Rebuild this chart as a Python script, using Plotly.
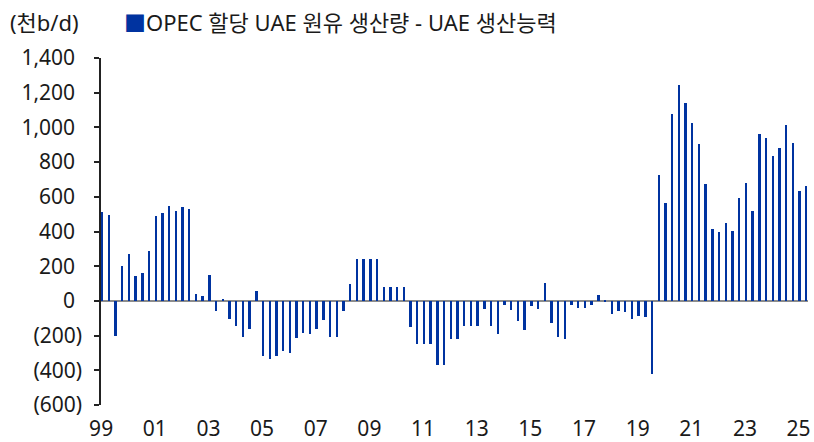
import plotly.graph_objects as go

# Quarterly data: 1999Q1 .. 2025Q2 (thousand b/d)
start_year = 1999
values = [
    510, 498, -204, 200, 271, 144, 160, 285,          # 1999-2000
    487, 508, 548, 521, 540, 527, 37, 27,             # 2001-2002
    152, -60, 12, -104, -144, -210, -160, 58,         # 2003-2004
    -315, -335, -315, -290, -302, -212, -183, -190,   # 2005-2006
    -161, -112, -206, -206, -56, 100, 240, 240,       # 2007-2008
    240, 240, 79, 79, 79, 79, -148, -246,             # 2009-2010
    -246, -246, -367, -367, -219, -219, -146, -146,   # 2011-2012
    -146, -46, -144, -192, -23, -54, -117, -167,      # 2013-2014
    -27, -48, 102, -127, -208, -217, -21, -42,        # 2015-2016
    -42, -23, 33, -5, -77, -58, -63, -102,            # 2017-2018
    -88, -90, -421, 727, 565, 1077, 1246, 1142,       # 2019-2020
    1027, 904, 673, 413, 398, 450, 402, 592,          # 2021-2022
    679, 521, 962, 940, 833, 881, 1012, 912,          # 2023-2024
    631, 662,                                         # 2025
]
quarter_labels = [f"{start_year + i // 4}Q{i % 4 + 1}" for i in range(len(values))]

x_tick_years = list(range(1999, 2026, 2))
x_tick_text = ["99", "01", "03", "05", "07", "09", "11", "13", "15", "17", "19", "21", "23", "25"]

y_tick_vals = [1400, 1200, 1000, 800, 600, 400, 200, 0, -200, -400, -600]
y_tick_text = ["1,400", "1,200", "1,000", "800", "600", "400", "200", "0",
               "(200)", "(400)", "(600)"]

series_name = "OPEC 할당 UAE 원유 생산량 - UAE 생산능력"
unit_label = "(천b/d)"

BAR_COLOR = "#0033A0"
FONT = "Noto Sans, Noto Sans CJK KR, sans-serif"
TEXT_COLOR = "#1a1a1a"

# bar positions on a numeric (year) scale, each quarter = 0.25 year
x_pos = [start_year + i * 0.25 + 0.035 for i in range(len(values))]

pad = "\u2004"
y_text_aligned = [t if t.startswith("(") else t + pad for t in y_tick_text]

fig = go.Figure()
fig.add_trace(go.Bar(
    x=x_pos, y=values, width=0.09,
    marker=dict(color=BAR_COLOR, line=dict(width=0)),
    name=series_name, customdata=quarter_labels,
    hovertemplate="%{customdata}: %{y}<extra></extra>",
    showlegend=False,
))

x_range = [1998.995, 2025.35]

fig.update_layout(
    width=814, height=442,
    margin=dict(l=101, r=6, t=58, b=37, autoexpand=False),
    paper_bgcolor="white", plot_bgcolor="white",
    font=dict(family=FONT, size=21, color=TEXT_COLOR),
    bargap=0,
    xaxis=dict(
        range=x_range, tickvals=x_tick_years, ticktext=x_tick_text,
        showgrid=False, zeroline=False, showline=False, ticks="",
        tickfont=dict(size=21, color=TEXT_COLOR),
        ticklabelstandoff=9, automargin=False,
    ),
    xaxis2=dict(
        overlaying="x", anchor="free", position=0.3, side="bottom",
        range=x_range, tickvals=x_tick_years,
        showticklabels=False, showgrid=False, zeroline=False, showline=False,
        ticks="outside", ticklen=6, tickwidth=1.5, tickcolor="#444",
        automargin=False,
    ),
    yaxis=dict(
        range=[-600, 1400], tickvals=y_tick_vals, ticktext=y_text_aligned,
        showgrid=False, showline=True, linecolor="#222", linewidth=1.5,
        ticks="outside", ticklen=5, tickwidth=1.5, tickcolor="#222",
        zeroline=True, zerolinecolor="#8c8c8c", zerolinewidth=2,
        tickfont=dict(size=21, color=TEXT_COLOR),
        ticklabelstandoff=8, automargin=False,
    ),
    annotations=[
        dict(xref="paper", yref="paper", x=0, y=1, xshift=-93, yshift=36,
             xanchor="left", yanchor="middle", showarrow=False,
             text=unit_label, font=dict(size=22, color=TEXT_COLOR)),
        dict(xref="paper", yref="paper", x=0, y=1, xshift=21, yshift=36,
             xanchor="left", yanchor="middle", showarrow=False,
             text=f"<span style='color:{BAR_COLOR}'>■</span>{series_name}",
             font=dict(size=22, color=TEXT_COLOR)),
    ],
)

fig.write_html(
    "out.html",
    config={"displayModeBar": False},
    post_script="document.body.style.margin='0';document.body.style.overflow='hidden';",
)
